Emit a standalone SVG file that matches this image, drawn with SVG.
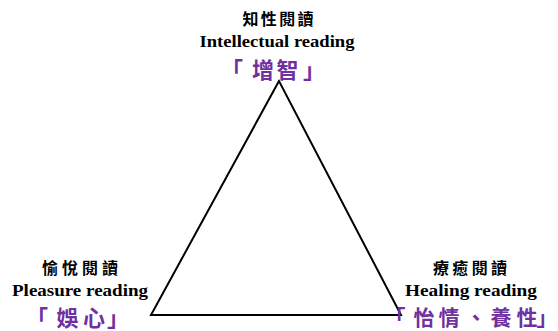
<svg xmlns="http://www.w3.org/2000/svg" width="558" height="331" viewBox="0 0 558 331">
<style>
.zh{font-family:"Noto Sans CJK TC","Noto Sans CJK SC",sans-serif;font-weight:bold;font-size:16px;fill:#000;text-anchor:middle}
.en{font-family:"Liberation Serif",serif;font-weight:bold;font-size:17px;fill:#000;text-anchor:middle}
.pu{font-family:"Noto Sans CJK TC","Noto Sans CJK SC",sans-serif;font-weight:bold;font-size:22px;fill:#7030A0;text-anchor:middle}
</style>
<rect width="558" height="331" fill="#fff"/>
<g id="connectors">
<polygon points="279,81 151,315 401,315" fill="none" stroke="#000" stroke-width="2" stroke-linejoin="miter"/>
</g>
<g id="intellectual">
<text class="zh" x="278" y="25" textLength="71" lengthAdjust="spacing">知性閱讀</text>
<text class="en" x="277" y="47" textLength="155" lengthAdjust="spacingAndGlyphs">Intellectual reading</text>
<text class="pu" x="232 263 287.5 314" y="78">「增智」</text>
</g>
<g id="pleasure">
<text class="zh" x="80" y="274" textLength="76" lengthAdjust="spacing">愉悅閱讀</text>
<text class="en" x="80" y="296" textLength="136" lengthAdjust="spacingAndGlyphs">Pleasure reading</text>
<text class="pu" x="37 67.5 94 118" y="326">「娛心」</text>
</g>
<g id="healing">
<text class="zh" x="470" y="274" textLength="74" lengthAdjust="spacing">療癒閱讀</text>
<text class="en" x="471" y="296" textLength="132" lengthAdjust="spacingAndGlyphs">Healing reading</text>
<text class="pu" style="font-size:21px" x="395 424 449 476 501 527 547" y="325">「怡情、養性」</text>
</g>
</svg>
